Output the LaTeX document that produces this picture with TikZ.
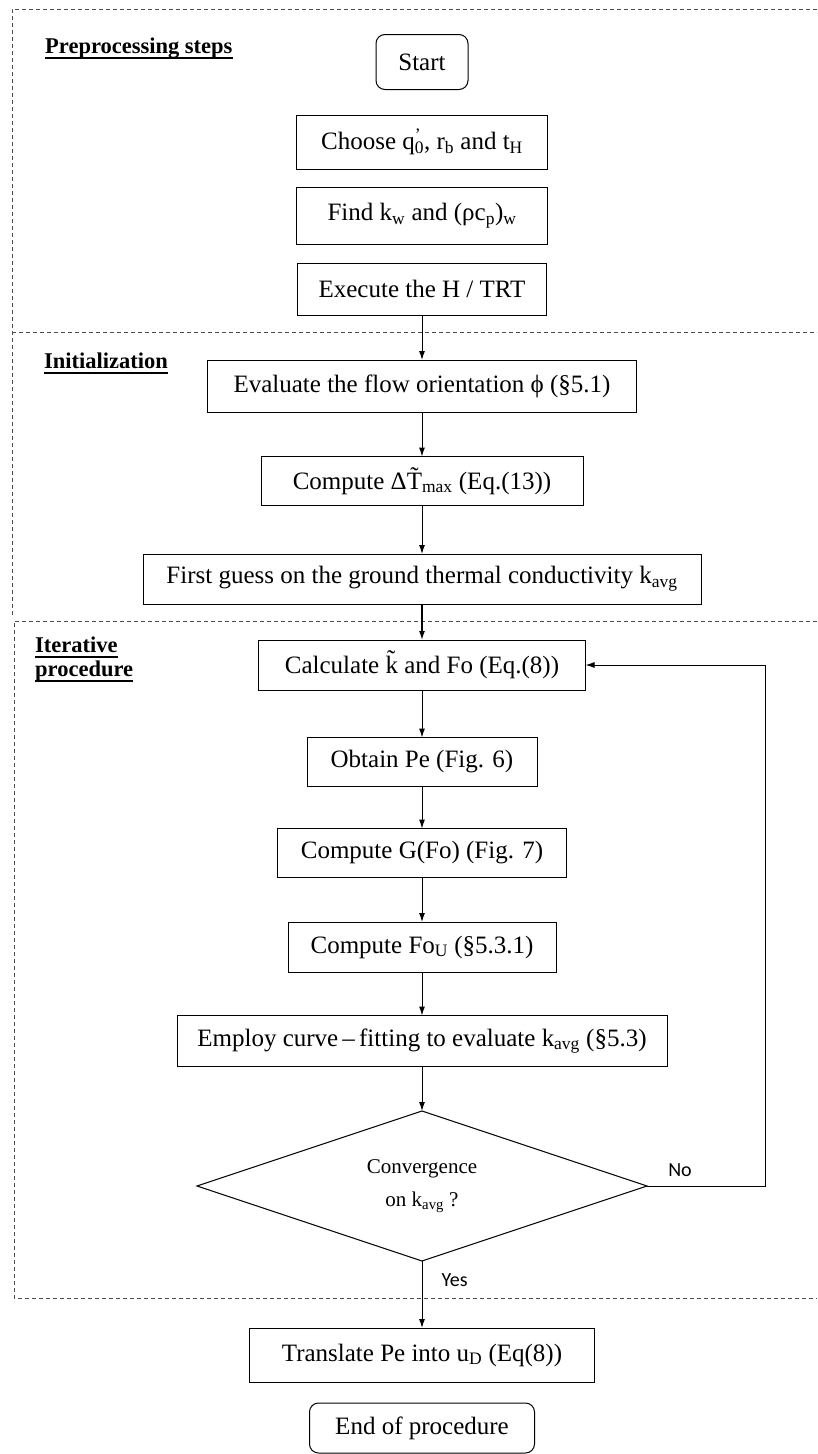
\documentclass[tikz,border=0pt]{standalone}
\usepackage{fontspec}
\setmainfont{Liberation Serif}
\newfontfamily\yesnofont{Carlito}
\usetikzlibrary{positioning, shapes.geometric, arrows.meta}
\newcommand{\supsb}[2]{\rlap{\textsuperscript{#1}}\textsubscript{#2}}

\begin{document}
\begin{tikzpicture}[x=1pt, y=-1pt, >={Latex[length=9pt,width=6pt]},
  box/.style 2 args={draw, line width=1pt, inner sep=0pt, outer sep=0pt, minimum width=#1pt, minimum height=#2pt, font=\fontsize{25}{28}\selectfont},
  term/.style 2 args={box={#1}{#2}, rounded corners=9pt},
  decision/.style={diamond, aspect=3, draw, line width=1pt, inner sep=0pt, outer sep=0pt, minimum width=450pt, minimum height=150pt, align=center, font=\fontsize{21}{33}\selectfont},
  region/.style={draw=black!70, dash pattern=on 4pt off 3pt, line width=1pt},
  sect/.style={inner sep=0pt, anchor=base west, font=\fontsize{22.5}{24}\selectfont\bfseries},
  answer/.style={inner sep=0pt, font=\fontsize{20}{22}\selectfont\yesnofont}]
\useasboundingbox (0,0) rectangle (817,1454);

% dashed regions
\draw[region] (817,9) -- (12,9) -- (12,618);
\draw[region] (12,332) -- (817,332);
\draw[region] (817,621) -- (14,621) -- (14,1298) -- (817,1298);

% region titles
\node[sect] (prep) at (45,53) {Preprocessing steps};
\node[sect] (init) at (44,368) {Initialization};
\node[sect] (iter) at (35,652) {Iterative};
\node[sect] (proc) at (35,676) {procedure};
\foreach \t in {prep, init, iter, proc}
  \draw[line width=1.5pt] ([yshift=-5pt]\t.base west) -- ([yshift=-5pt]\t.base east);

% flow
\node[term={92}{55}] (start) at (422,62) {Start};
\node[box={251}{54}, below=25.5pt of start] (choose) {Choose q\supsb{'}{0}, r\textsubscript{b} and t\textsubscript{H}};
\node[box={251}{57}, below=18.5pt of choose] (find) {Find k\textsubscript{w} and (ρc\textsubscript{p})\textsubscript{w}};
\node[box={249}{52}, below=18.5pt of find] (exec) {Execute the H / TRT};
\node[box={429}{52}, below=45pt of exec] (eval) {Evaluate the flow orientation ϕ (§5.1)};
\node[box={322}{49}, below=44.5pt of eval] (dtmax) {Compute Δ\~{T}\textsubscript{max} (Eq.(13))};
\node[box={558}{50}, below=48.5pt of dtmax] (guess) {First guess on the ground thermal conductivity k\textsubscript{avg}};
\node[box={327}{50}, below=36pt of guess] (calc) {Calculate \~{k} and Fo (Eq.(8))};
\node[box={230}{49}, below=47.5pt of calc] (obtain) {Obtain Pe (Fig. 6)};
\node[box={289}{49}, below=42pt of obtain] (gfo) {Compute G(Fo) (Fig. 7)};
\node[box={268}{50}, below=44.5pt of gfo] (fou) {Compute Fo\textsubscript{U} (§5.3.1)};
\node[box={490}{51}, below=43.5pt of fou] (employ) {Employ curve\,–\,fitting to evaluate k\textsubscript{avg} (§5.3)};
\node[decision, below=44.5pt of employ] (conv) {Convergence\\on k\textsubscript{avg} ?};
\node[box={345}{54}, below=67pt of conv] (transl) {Translate Pe into u\textsubscript{D} (Eq(8))};
\node[term={225}{50}, below=21pt of transl] (finish) {End of procedure};

\draw[->, line width=1pt] (exec) -- (eval);
\draw[->, line width=1pt] (eval) -- (dtmax);
\draw[->, line width=1pt] (dtmax) -- (guess);
\draw[->, line width=1.4pt] (guess) -- (calc);
\draw[->, line width=1pt] (calc) -- (obtain);
\draw[->, line width=1pt] (obtain) -- (gfo);
\draw[->, line width=1pt] (gfo) -- (fou);
\draw[->, line width=1pt] (fou) -- (employ);
\draw[->, line width=1pt] (employ) -- (conv);
\draw[->, line width=1pt] (conv) -- node[answer, right=19pt, pos=.28]{Yes} (transl);
\draw[->, line width=1pt] (conv.east) -- node[answer, above=9pt, pos=.28]{No} ++(118,0) |- (calc.east);
\end{tikzpicture}
\end{document}
